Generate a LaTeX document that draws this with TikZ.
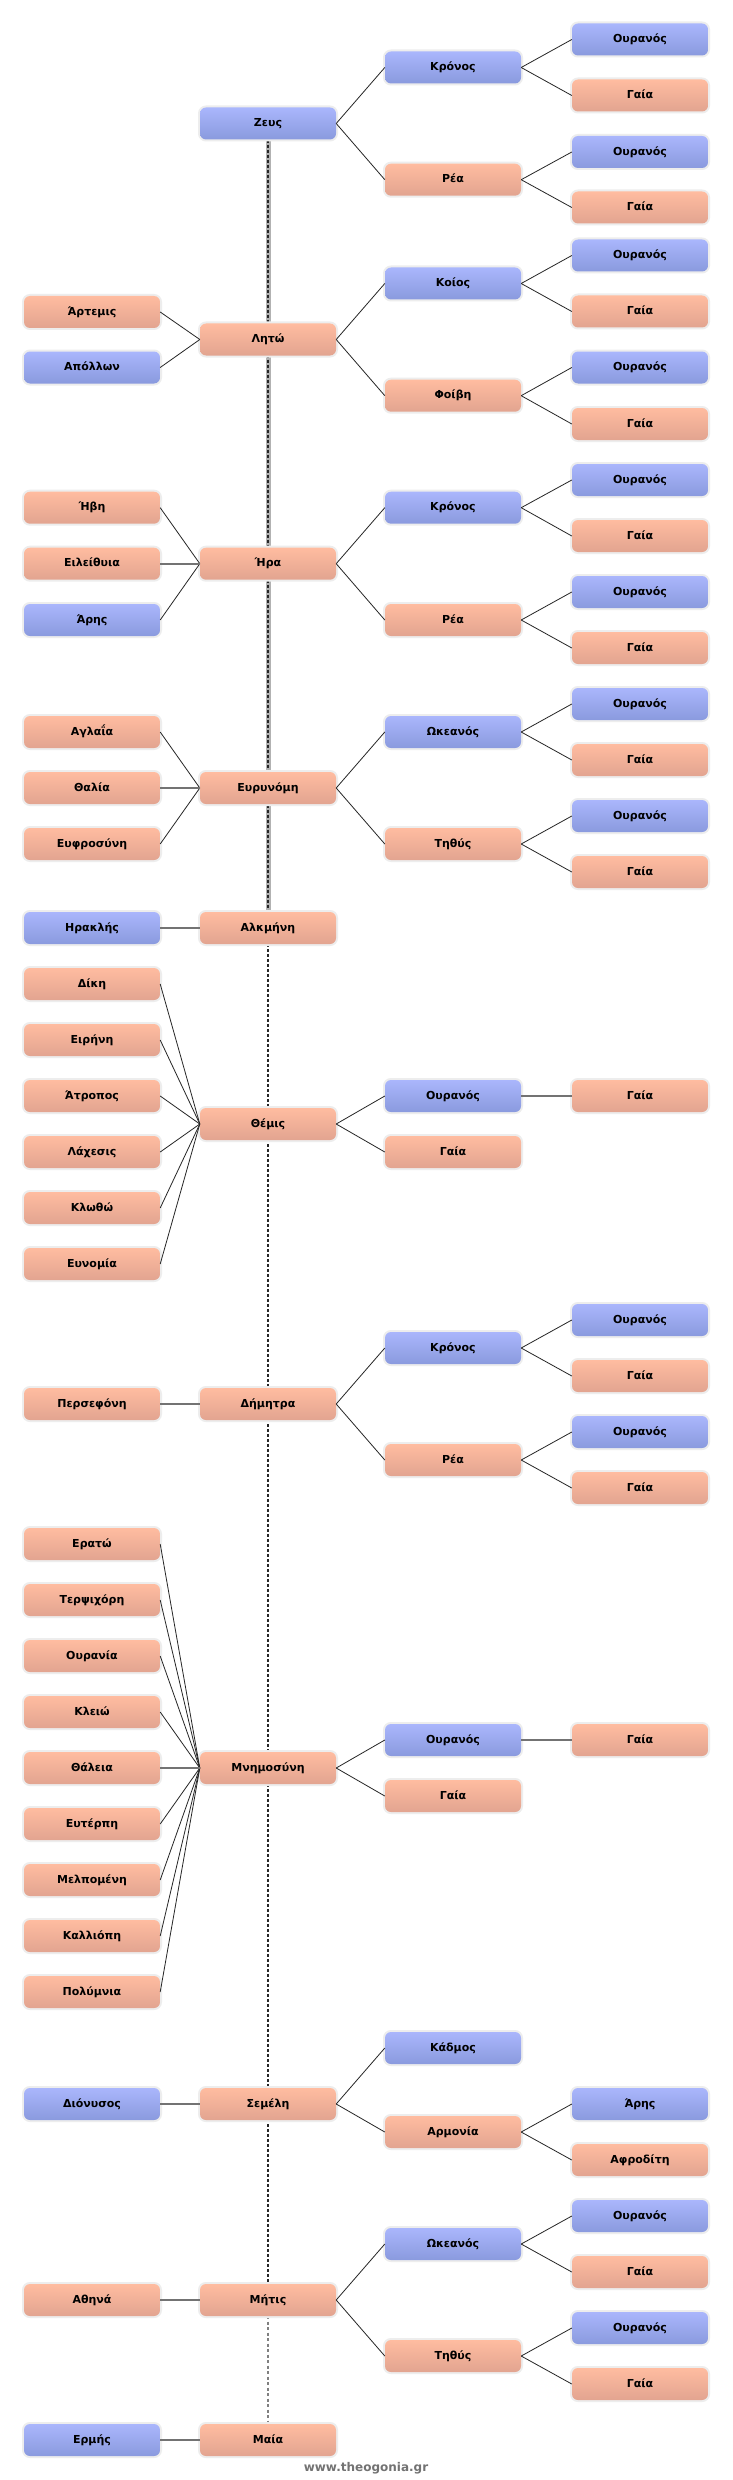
\documentclass[tikz,border=0pt]{standalone}
\usepackage{fontspec}
\setmainfont{DejaVu Sans}
\usetikzlibrary{backgrounds}
\definecolor{bluetop}{RGB}{170,182,252}
\definecolor{bluebot}{RGB}{138,154,222}
\definecolor{saltop}{RGB}{255,188,160}
\definecolor{salbot}{RGB}{226,164,144}
\begin{document}
\begin{tikzpicture}[x=1pt,y=-1pt,
  person/.style={rounded corners=6pt, minimum width=136pt, minimum height=32pt,
    inner sep=0pt, text height=9pt, text depth=2.5pt,
    font=\fontsize{11}{13}\selectfont\bfseries,
    preaction={draw=black!7, line width=4pt}},
  male/.style={person, top color=bluetop, bottom color=bluebot},
  female/.style={person, top color=saltop, bottom color=salbot},
  link/.style={draw=black!85, line width=0.8pt},
  hlink/.style={draw=black!55, line width=1.8pt},
]
\def\ca{92}\def\cb{268}\def\cc{453}\def\cd{640}
\useasboundingbox (0,0) rectangle (732,2480);

% Zeus
\node[male] (zeus) at (\cb,123.5) {Ζευς};
\node[male] (kronosZ) at (\cc,67.5) {Κρόνος};
\node[male] (oZ1) at (\cd,39.5) {Ουρανός};
\node[female] (gZ1) at (\cd,95.5) {Γαία};
\node[female] (reaZ) at (\cc,179.7) {Ρέα};
\node[male] (oZ2) at (\cd,152) {Ουρανός};
\node[female] (gZ2) at (\cd,207.5) {Γαία};

% Leto
\node[female] (leto) at (\cb,339.5) {Λητώ};
\node[female] (artemis) at (\ca,312) {Άρτεμις};
\node[male] (apollon) at (\ca,367.5) {Απόλλων};
\node[male] (koios) at (\cc,283.5) {Κοίος};
\node[male] (oL1) at (\cd,255.5) {Ουρανός};
\node[female] (gL1) at (\cd,311.5) {Γαία};
\node[female] (foivi) at (\cc,395.7) {Φοίβη};
\node[male] (oL2) at (\cd,367.5) {Ουρανός};
\node[female] (gL2) at (\cd,424) {Γαία};

% Hera
\node[female] (hera) at (\cb,563.7) {Ήρα};
\node[female] (ivi) at (\ca,507.7) {Ήβη};
\node[female] (eileithyia) at (\ca,563.7) {Ειλείθυια};
\node[male] (arisH) at (\ca,620) {Άρης};
\node[male] (kronosH) at (\cc,507.7) {Κρόνος};
\node[male] (oH1) at (\cd,480) {Ουρανός};
\node[female] (gH1) at (\cd,536) {Γαία};
\node[female] (reaH) at (\cc,620) {Ρέα};
\node[male] (oH2) at (\cd,592) {Ουρανός};
\node[female] (gH2) at (\cd,648) {Γαία};

% Eurynome
\node[female] (eurynome) at (\cb,788) {Ευρυνόμη};
\node[female] (aglaia) at (\ca,732) {Αγλαΐα};
\node[female] (thalia) at (\ca,788) {Θαλία};
\node[female] (eufrosyni) at (\ca,844) {Ευφροσύνη};
\node[male] (okeanosE) at (\cc,732) {Ωκεανός};
\node[male] (oE1) at (\cd,704) {Ουρανός};
\node[female] (gE1) at (\cd,760) {Γαία};
\node[female] (tithysE) at (\cc,844) {Τηθύς};
\node[male] (oE2) at (\cd,816) {Ουρανός};
\node[female] (gE2) at (\cd,872) {Γαία};

% Alkmene
\node[female] (alkmini) at (\cb,928) {Αλκμήνη};
\node[male] (iraklis) at (\ca,928) {Ηρακλής};

% Themis
\node[female] (themis) at (\cb,1124) {Θέμις};
\node[female] (diki) at (\ca,984) {Δίκη};
\node[female] (eirini) at (\ca,1040) {Ειρήνη};
\node[female] (atropos) at (\ca,1096) {Άτροπος};
\node[female] (lachesis) at (\ca,1152) {Λάχεσις};
\node[female] (klotho) at (\ca,1208) {Κλωθώ};
\node[female] (eunomia) at (\ca,1264) {Ευνομία};
\node[male] (ouranosT) at (\cc,1096) {Ουρανός};
\node[female] (gT1) at (\cd,1096) {Γαία};
\node[female] (gaiaT) at (\cc,1152) {Γαία};

% Demeter
\node[female] (dimitra) at (\cb,1404) {Δήμητρα};
\node[female] (persefoni) at (\ca,1404) {Περσεφόνη};
\node[male] (kronosD) at (\cc,1348) {Κρόνος};
\node[male] (oD1) at (\cd,1320) {Ουρανός};
\node[female] (gD1) at (\cd,1376) {Γαία};
\node[female] (reaD) at (\cc,1460) {Ρέα};
\node[male] (oD2) at (\cd,1432) {Ουρανός};
\node[female] (gD2) at (\cd,1488) {Γαία};

% Mnemosyne
\node[female] (mnimosyni) at (\cb,1768) {Μνημοσύνη};
\node[female] (erato) at (\ca,1544) {Ερατώ};
\node[female] (terpsichori) at (\ca,1600) {Τερψιχόρη};
\node[female] (ourania) at (\ca,1656) {Ουρανία};
\node[female] (kleio) at (\ca,1712) {Κλειώ};
\node[female] (thaleia) at (\ca,1768) {Θάλεια};
\node[female] (euterpi) at (\ca,1824) {Ευτέρπη};
\node[female] (melpomeni) at (\ca,1880) {Μελπομένη};
\node[female] (kalliopi) at (\ca,1936) {Καλλιόπη};
\node[female] (polymnia) at (\ca,1992) {Πολύμνια};
\node[male] (ouranosM) at (\cc,1740) {Ουρανός};
\node[female] (gM1) at (\cd,1740) {Γαία};
\node[female] (gaiaM) at (\cc,1796) {Γαία};

% Semele
\node[female] (semeli) at (\cb,2104) {Σεμέλη};
\node[male] (dionysos) at (\ca,2104) {Διόνυσος};
\node[male] (kadmos) at (\cc,2048) {Κάδμος};
\node[female] (armonia) at (\cc,2132) {Αρμονία};
\node[male] (arisS) at (\cd,2104) {Άρης};
\node[female] (afroditi) at (\cd,2160) {Αφροδίτη};

% Metis
\node[female] (mitis) at (\cb,2300) {Μήτις};
\node[female] (athina) at (\ca,2300) {Αθηνά};
\node[male] (okeanosM) at (\cc,2244) {Ωκεανός};
\node[male] (oMe1) at (\cd,2216) {Ουρανός};
\node[female] (gMe1) at (\cd,2272) {Γαία};
\node[female] (tithysM) at (\cc,2356) {Τηθύς};
\node[male] (oMe2) at (\cd,2328) {Ουρανός};
\node[female] (gMe2) at (\cd,2384) {Γαία};

% Maia
\node[female] (maia) at (\cb,2440) {Μαία};
\node[male] (ermis) at (\ca,2440) {Ερμής};

\node[font=\fontsize{12}{14}\selectfont\bfseries, text=black!55] (wm) at (366,2468) {www.theogonia.gr};

% right-hand (ancestor) links
\foreach \a/\b in {zeus/kronosZ, zeus/reaZ, kronosZ/oZ1, kronosZ/gZ1, reaZ/oZ2, reaZ/gZ2,
  leto/koios, leto/foivi, koios/oL1, koios/gL1, foivi/oL2, foivi/gL2,
  hera/kronosH, hera/reaH, kronosH/oH1, kronosH/gH1, reaH/oH2, reaH/gH2,
  eurynome/okeanosE, eurynome/tithysE, okeanosE/oE1, okeanosE/gE1, tithysE/oE2, tithysE/gE2,
  themis/ouranosT, themis/gaiaT,
  dimitra/kronosD, dimitra/reaD, kronosD/oD1, kronosD/gD1, reaD/oD2, reaD/gD2,
  mnimosyni/ouranosM, mnimosyni/gaiaM,
  semeli/kadmos, semeli/armonia, armonia/arisS, armonia/afroditi,
  mitis/okeanosM, mitis/tithysM, okeanosM/oMe1, okeanosM/gMe1, tithysM/oMe2, tithysM/gMe2}
  \draw[link] (\a.east) -- (\b.west);
\foreach \a/\b in {ouranosT/gT1, ouranosM/gM1}
  \draw[hlink] (\a.east) -- (\b.west);

% left-hand (children) links
\foreach \a/\b in {artemis/leto, apollon/leto, ivi/hera, arisH/hera,
  aglaia/eurynome, eufrosyni/eurynome,
  diki/themis, eirini/themis, atropos/themis, lachesis/themis, klotho/themis, eunomia/themis,
  erato/mnimosyni, terpsichori/mnimosyni, ourania/mnimosyni, kleio/mnimosyni,
  euterpi/mnimosyni, melpomeni/mnimosyni, kalliopi/mnimosyni, polymnia/mnimosyni}
  \draw[link] (\a.east) -- (\b.west);
\foreach \a/\b in {eileithyia/hera, thalia/eurynome, iraklis/alkmini, persefoni/dimitra,
  thaleia/mnimosyni, dionysos/semeli, athina/mitis, ermis/maia}
  \draw[hlink] (\a.east) -- (\b.west);

\begin{pgfonlayer}{background}
  \fill[white] (0,0) rectangle (732,2480);
  \draw[black!30, line width=5pt] (zeus.south) -- (alkmini.north);
  \draw[black!85, line width=1.6pt, dash pattern=on 3pt off 2pt] (zeus.south) -- (alkmini.north);
  \draw[black!85, line width=1.5pt, dash pattern=on 3pt off 2pt] (alkmini.south) -- (mitis.north);
  \draw[black!50, line width=1.5pt, dash pattern=on 3pt off 2.5pt] (mitis.south) -- (maia.north);
\end{pgfonlayer}
\end{tikzpicture}
\end{document}
